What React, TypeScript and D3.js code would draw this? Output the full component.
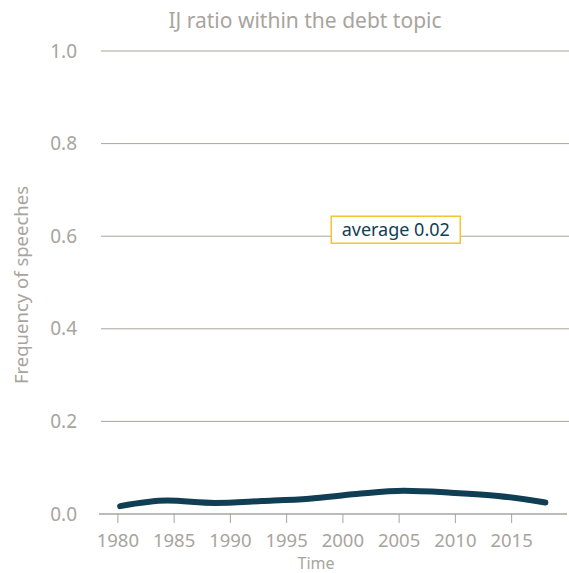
import React from "react";
import * as d3 from "d3";

const years = [1980.2, 1984.4, 1988.6, 1992.8, 1997.0, 2001.2, 2005.4, 2009.6, 2013.8, 2018.0];
const ratios = [0.017, 0.029, 0.024, 0.028, 0.033, 0.043, 0.050, 0.046, 0.039, 0.025];
const xTicks = [1980, 1985, 1990, 1995, 2000, 2005, 2010, 2015];
const yTicks = [0, 0.2, 0.4, 0.6, 0.8, 1.0];
const title = "IJ ratio within the debt topic";
const annotationText = "average 0.02";
const annotationPos = { year: 2004.7, value: 0.614 };

const W = 569, H = 573;
const FONT = "'Noto Sans', 'Open Sans', sans-serif";
const GRAY = "#a8a49e";
const LINE = "#0f3e55";

export default function App() {
  const x = d3.scaleLinear().domain([1978.5, 2020.1]).range([101, 569]);
  const y = d3.scaleLinear().domain([0, 1]).range([514, 51]);
  const line = d3.line<number>().x((_, i) => x(years[i])).y((d) => y(d)).curve(d3.curveMonotoneX);
  const ax = x(annotationPos.year), ay = y(annotationPos.value);
  return (
    <svg width={W} height={H} style={{ position: "absolute", left: 0, top: 0 }}>
      <rect width={W} height={H} fill="#fff" />
      <text x={305} y={28} textAnchor="middle" fontFamily={FONT} fontSize={21} fill={GRAY}>{title}</text>
      {yTicks.map((t) => (
        <g key={t}>
          {t > 0 && <line x1={101} x2={569} y1={y(t)} y2={y(t)} stroke={GRAY} strokeWidth={1} />}
          <text x={77} y={y(t)} dy="0.35em" textAnchor="end" fontFamily={FONT} fontSize={19} fill={GRAY}>{t.toFixed(1)}</text>
        </g>
      ))}
      <line x1={99} x2={567} y1={y(0)} y2={y(0)} stroke={GRAY} strokeWidth={1.5} />
      {xTicks.map((t) => (
        <g key={t}>
          <line x1={x(t)} x2={x(t)} y1={y(0)} y2={y(0) + 9} stroke={GRAY} strokeWidth={1} />
          <text x={x(t)} y={547} textAnchor="middle" fontFamily={FONT} fontSize={18.5} fill={GRAY}>{t}</text>
        </g>
      ))}
      <text x={316} y={569} textAnchor="middle" fontFamily={FONT} fontSize={16} fill={GRAY}>Time</text>
      <text transform={`translate(28,285) rotate(-90)`} textAnchor="middle" fontFamily={FONT} fontSize={18.5} fill={GRAY}>Frequency of speeches</text>
      <path d={line(ratios) || ""} fill="none" stroke={LINE} strokeWidth={6} strokeLinecap="round" strokeLinejoin="round" />
      <rect x={ax - 64.5} y={ay - 13.5} width={129} height={27} fill="#fff" stroke="#f5c431" strokeWidth={1.5} />
      <text x={ax} y={ay} dy="0.35em" textAnchor="middle" fontFamily={FONT} fontSize={18} fill={LINE}>{annotationText}</text>
    </svg>
  );
}
